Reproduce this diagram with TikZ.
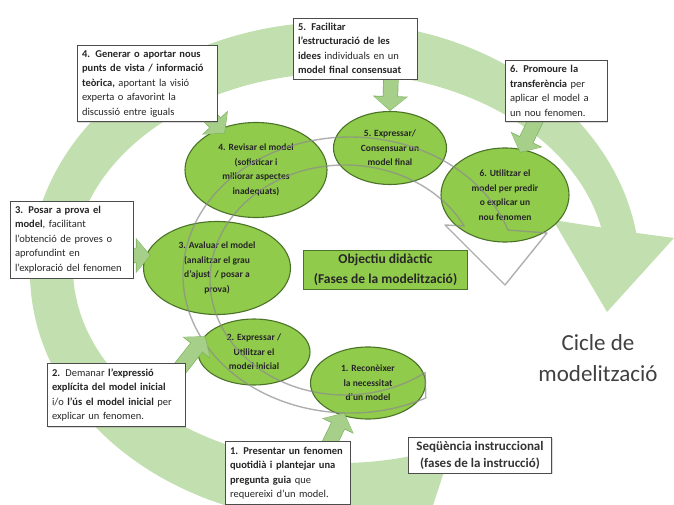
\documentclass[tikz,border=0pt]{standalone}
\usepackage{fontspec}
\setmainfont{Carlito}
\usepackage{xcolor}
\usepackage{tikz}
\usetikzlibrary{shapes.geometric, arrows.meta, positioning, calc, shadows}

\definecolor{anell}{RGB}{194,223,175}
\definecolor{fletxa}{RGB}{166,208,138}
\definecolor{fletxavora}{RGB}{128,178,98}
\definecolor{fasefill}{RGB}{145,203,76}
\definecolor{fasevora}{RGB}{75,115,40}
\definecolor{gris}{RGB}{140,140,140}

\pgfdeclarelayer{fons}
\pgfdeclarelayer{fases}
\pgfdeclarelayer{fletxes}
\pgfsetlayers{fons,fases,fletxes,main}

\begin{document}
\begin{tikzpicture}[x=1pt, y=1pt,
    accio/.style={draw=black!70, fill=white, line width=0.7pt, align=left, inner sep=5pt, font=\fontsize{10.5}{14.5}\selectfont, text=black!85, drop shadow={shadow xshift=1.2pt, shadow yshift=-1.2pt, opacity=0.3}},
    fase/.style={ellipse, draw=fasevora, line width=1.1pt, fill=fasefill, inner sep=0pt, align=center, font=\fontsize{9.5}{14.5}\selectfont\bfseries, text=black!85},
    fat/.style={-{Triangle[length=13pt, width=32pt]}, line width=14pt, draw=fletxa, shorten >=1pt,
        preaction={draw=fletxavora, line width=15.4pt, shorten >=0pt, -{Triangle[length=14.8pt, width=34.4pt]}}},
]

\useasboundingbox (0,0) rectangle (674,504);
\clip (0,0) rectangle (674,504);

\begin{pgfonlayer}{fons}
\fill[anell] ($(335,232)+(-71.5:305pt and 250pt)$) arc[start angle=-71.5, end angle=-351, x radius=305pt, y radius=250pt]
    -- (674,266) -- (607,192) -- (553,284)
    -- ($(340,236)+(12:267pt and 195pt)$) arc[start angle=12, end angle=295, x radius=267pt, y radius=195pt] -- cycle;
\end{pgfonlayer}

\begin{pgfonlayer}{fases}
\node[fase, minimum width=142pt, minimum height=95pt] (fase4) at (256,334) {4. Revisar el model\\(sofisticar i\\millorar aspectes\\inadequats)};
\node[fase, minimum width=113pt, minimum height=73pt] (fase5) at (390,356) {5. Expressar/\\Consensuar un\\model final};
\node[fase, minimum width=128pt, minimum height=94pt] (fase6) at (505,309) {6. Utilitzar el\\model per predir\\o explicar un\\nou fenomen};
\node[fase, minimum width=147pt, minimum height=93pt] (fase3) at (217,236) {3. Avaluar el model\\(analitzar el grau\\d'ajust~ / posar a\\prova)};
\node[fase, minimum width=112pt, minimum height=66pt] (fase2) at (254,152) {2. Expressar /\\Utilitzar el\\model inicial};
\node[fase, minimum width=115pt, minimum height=72pt] (fase1) at (368,121) {1. Reconèixer\\la necessitat\\d'un model};
\end{pgfonlayer}

\node[accio, text width=130pt] (accio4) at (147,420.5) {\textbf{4. Generar o aportar nous}\\\textbf{punts de vista / informació}\\\textbf{teòrica,} aportant la visió\\experta o afavorint la\\discussió entre iguals};
\node[accio, text width=114pt] (accio5) at (355,455.5) {\textbf{5. Facilitar}\\\textbf{l'estructuració de les}\\\textbf{idees} individuals en un\\\textbf{model final consensuat}};
\node[accio, text width=92pt] (accio6) at (556,413) {\textbf{6. Promoure la}\\\textbf{transferència} per\\aplicar el model a\\un nou fenomen.};
\node[accio, text width=113pt] (accio3) at (71.5,264.5) {\textbf{3. Posar a prova el}\\\textbf{model}, facilitant\\l'obtenció de proves o\\aprofundint en\\l'exploració del fenomen};
\node[accio, text width=128pt] (accio2) at (116,109) {\textbf{2.} Demanar \textbf{l'expressió}\\\textbf{explícita del model inicial}\\i/o \textbf{l'ús el model inicial} per\\explicar un fenomen.};
\node[accio, text width=115pt] (accio1) at (287.5,31) {\textbf{1. Presentar un fenomen}\\\textbf{quotidià i plantejar una}\\\textbf{pregunta guia} que\\requereixi d'un model.};

\node[draw=fasevora, fill=fasefill, line width=1pt, align=center, font=\fontsize{13.5}{20}\selectfont\bfseries, text=black!85, inner xsep=10pt, inner ysep=4pt] (objectiu) at (385.5,234) {Objectiu didàctic\\(Fases de la modelització)};
\node[draw=black!70, fill=white, line width=0.7pt, align=center, font=\fontsize{13}{17}\selectfont\bfseries, text=black!80, inner xsep=8pt, inner ysep=4pt, drop shadow={shadow xshift=1.2pt, shadow yshift=-1.2pt, opacity=0.3}] (sequencia) at (480,49) {Seqüència instruccional\\(fases de la instrucció)};
\node[align=center, font=\fontsize{23}{31}\selectfont, text=black!75] (cicle) at (598,146) {Cicle de\\modelització};

\begin{pgfonlayer}{fletxes}
\draw[gris, line width=1.4pt, opacity=0.7, line join=round] ($(350,229)+(-63:167pt and 138pt)$) arc[start angle=-63, end angle=-341, x radius=167pt, y radius=138pt]
    -- (547,271) -- (505,219) -- (445,279)
    -- ($(345,224)+(28:135pt and 115pt)$) arc[start angle=28, end angle=306.4, x radius=135pt, y radius=115pt] -- cycle;

\draw[fat] ([shift={(-12pt,10pt)}]accio4.south east) -- ([shift={(5pt,-5pt)}]fase4.131);
\draw[fat] ([xshift=36pt, yshift=4pt]accio5.south) -- (fase5.north);
\draw[fat] ([xshift=-19pt, yshift=4pt]accio6.south) -- ([yshift=-4pt]fase6.72);
\draw[fat] ([xshift=-8pt, yshift=-16pt]accio3.east) -- ([xshift=5pt]fase3.170);
\draw[fat] ([xshift=-6pt, yshift=-6pt]accio2.north east) -- ([shift={(3pt,2pt)}]fase2.165);
\draw[fat] ([xshift=40pt, yshift=-6pt]accio1.north) -- ([shift={(2pt,3pt)}]fase1.232);
\end{pgfonlayer}

\end{tikzpicture}
\end{document}
